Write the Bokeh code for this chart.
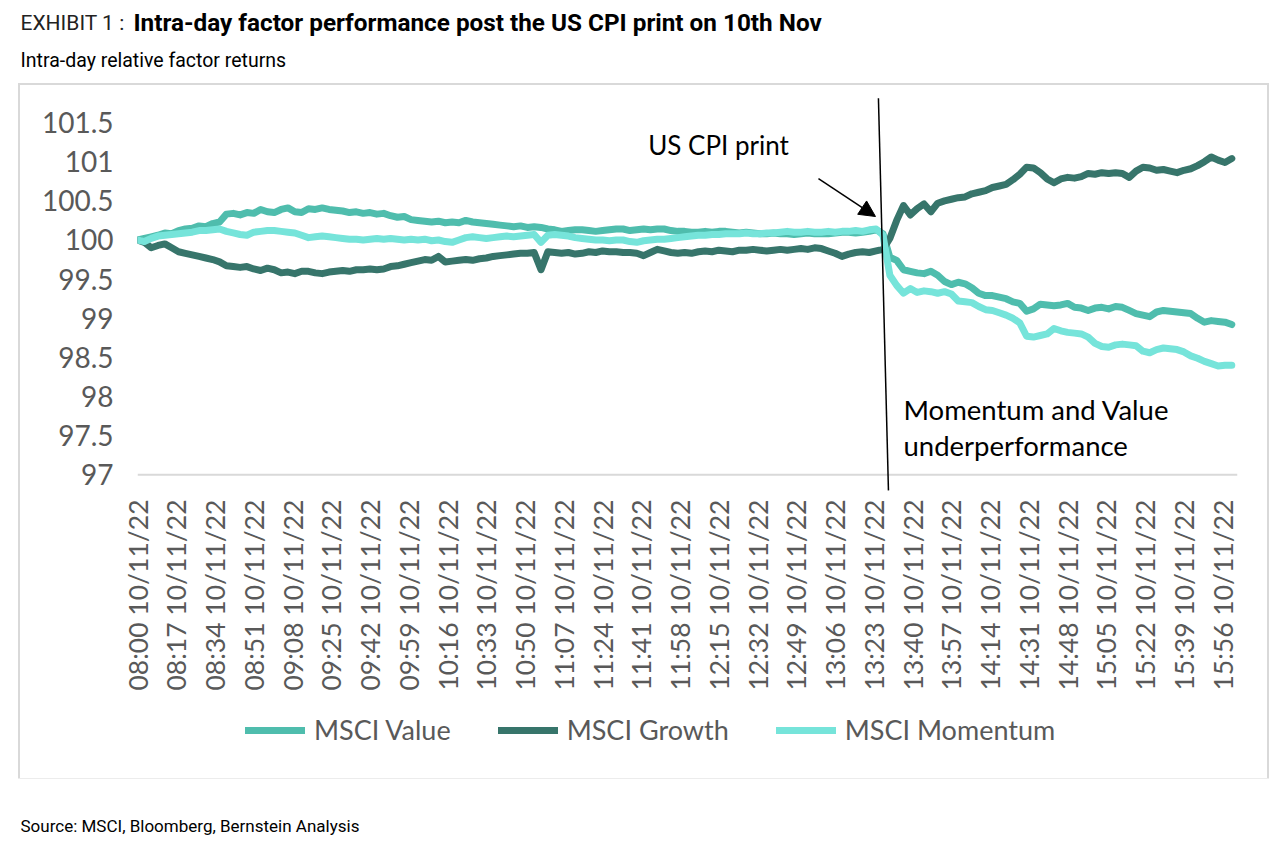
import math
from bokeh.plotting import figure
from bokeh.layouts import column, row
from bokeh.models import (Range1d, FixedTicker, Span, Label, Arrow, NormalHead,
                          Legend, LegendItem, CustomJSTickFormatter, Spacer)
from bokeh.embed import file_html
from bokeh.resources import INLINE

# ---------------- data ----------------
tick_labels = ["08:00 10/11/22", "08:17 10/11/22", "08:34 10/11/22", "08:51 10/11/22",
               "09:08 10/11/22", "09:25 10/11/22", "09:42 10/11/22", "09:59 10/11/22",
               "10:16 10/11/22", "10:33 10/11/22", "10:50 10/11/22", "11:07 10/11/22",
               "11:24 10/11/22", "11:41 10/11/22", "11:58 10/11/22", "12:15 10/11/22",
               "12:32 10/11/22", "12:49 10/11/22", "13:06 10/11/22", "13:23 10/11/22",
               "13:40 10/11/22", "13:57 10/11/22", "14:14 10/11/22", "14:31 10/11/22",
               "14:48 10/11/22", "15:05 10/11/22", "15:22 10/11/22", "15:39 10/11/22",
               "15:56 10/11/22"]

# minutes after 08:00, sampled every 3 minutes
minutes = list(range(0, 481, 3))

msci_value = [
    100.00, 100.02, 100.04, 100.06, 100.09, 100.08, 100.12, 100.14, 100.15, 100.18,
    100.17, 100.21, 100.23, 100.33, 100.34, 100.32, 100.35, 100.34, 100.39, 100.36,
    100.35, 100.39, 100.41, 100.36, 100.35, 100.40, 100.39, 100.41, 100.39, 100.38,
    100.37, 100.35, 100.36, 100.34, 100.35, 100.33, 100.34, 100.31, 100.29, 100.30,
    100.26, 100.25, 100.24, 100.23, 100.24, 100.22, 100.23, 100.22, 100.25, 100.23,
    100.22, 100.21, 100.20, 100.19, 100.18, 100.17, 100.18, 100.16, 100.17, 100.16,
    100.14, 100.13, 100.11, 100.12, 100.13, 100.13, 100.12, 100.11, 100.12, 100.13,
    100.14, 100.14, 100.12, 100.13, 100.14, 100.13, 100.14, 100.14, 100.12, 100.11,
    100.11, 100.10, 100.10, 100.11, 100.10, 100.11, 100.11, 100.10, 100.09, 100.10,
    100.09, 100.08, 100.08, 100.09, 100.08, 100.08, 100.07, 100.08, 100.09, 100.08,
    100.08, 100.08, 100.09, 100.10, 100.10, 100.09, 100.10, 100.11, 100.13, 100.08,
    99.78, 99.74, 99.62, 99.60, 99.58, 99.57, 99.60, 99.55, 99.47, 99.43,
    99.46, 99.44, 99.39, 99.32, 99.29, 99.29, 99.27, 99.25, 99.21, 99.19,
    99.09, 99.12, 99.18, 99.17, 99.16, 99.17, 99.19, 99.14, 99.13, 99.10,
    99.13, 99.14, 99.12, 99.15, 99.14, 99.10, 99.06, 99.04, 99.02, 99.08,
    99.10, 99.09, 99.08, 99.07, 99.06, 99.00, 98.95, 98.97, 98.96, 98.95,
    98.92]

msci_growth = [
    100.00, 99.97, 99.90, 99.93, 99.95, 99.90, 99.85, 99.83, 99.81, 99.79,
    99.77, 99.75, 99.72, 99.67, 99.66, 99.65, 99.66, 99.63, 99.61, 99.64,
    99.62, 99.58, 99.59, 99.57, 99.60, 99.60, 99.58, 99.57, 99.59, 99.60,
    99.61, 99.60, 99.62, 99.62, 99.63, 99.62, 99.63, 99.66, 99.67, 99.69,
    99.71, 99.73, 99.75, 99.74, 99.79, 99.72, 99.73, 99.74, 99.75, 99.74,
    99.76, 99.77, 99.79, 99.80, 99.81, 99.82, 99.83, 99.83, 99.84, 99.62,
    99.85, 99.84, 99.83, 99.84, 99.82, 99.83, 99.85, 99.84, 99.86, 99.85,
    99.85, 99.84, 99.84, 99.83, 99.80, 99.84, 99.88, 99.86, 99.84, 99.83,
    99.84, 99.83, 99.85, 99.86, 99.85, 99.87, 99.86, 99.85, 99.87, 99.87,
    99.88, 99.87, 99.86, 99.87, 99.88, 99.87, 99.88, 99.89, 99.88, 99.90,
    99.89, 99.86, 99.83, 99.79, 99.82, 99.84, 99.85, 99.84, 99.86, 99.88,
    100.02, 100.25, 100.44, 100.32, 100.40, 100.46, 100.36, 100.47, 100.50, 100.52,
    100.54, 100.55, 100.59, 100.61, 100.63, 100.67, 100.69, 100.71, 100.77, 100.84,
    100.93, 100.92, 100.86, 100.78, 100.73, 100.78, 100.80, 100.79, 100.81, 100.85,
    100.84, 100.86, 100.85, 100.86, 100.85, 100.80, 100.88, 100.93, 100.92, 100.89,
    100.90, 100.88, 100.86, 100.89, 100.91, 100.95, 101.00, 101.06, 101.02, 100.99,
    101.04]

msci_momentum = [
    100.00, 99.98, 100.02, 100.05, 100.06, 100.07, 100.08, 100.09, 100.10, 100.12,
    100.12, 100.13, 100.14, 100.11, 100.09, 100.07, 100.06, 100.10, 100.11, 100.12,
    100.12, 100.11, 100.10, 100.09, 100.06, 100.03, 100.04, 100.05, 100.04, 100.03,
    100.02, 100.01, 100.01, 100.00, 100.01, 100.02, 100.01, 100.02, 100.01, 100.00,
    100.01, 100.00, 100.01, 99.99, 100.00, 99.98, 99.97, 100.00, 100.03, 100.04,
    100.03, 100.02, 100.03, 100.04, 100.05, 100.04, 100.05, 100.06, 100.07, 99.97,
    100.06, 100.07, 100.06, 100.05, 100.03, 100.02, 100.01, 100.00, 100.00, 99.99,
    100.00, 100.00, 99.98, 99.97, 99.99, 100.00, 100.01, 100.01, 100.02, 100.03,
    100.04, 100.05, 100.06, 100.06, 100.07, 100.07, 100.08, 100.08, 100.08, 100.09,
    100.08, 100.08, 100.09, 100.09, 100.10, 100.11, 100.10, 100.10, 100.11, 100.10,
    100.10, 100.11, 100.10, 100.11, 100.11, 100.12, 100.11, 100.13, 100.14, 100.06,
    99.55, 99.42, 99.32, 99.38, 99.33, 99.35, 99.34, 99.32, 99.34, 99.31,
    99.22, 99.21, 99.20, 99.15, 99.11, 99.10, 99.07, 99.04, 99.00, 98.94,
    98.77, 98.76, 98.78, 98.80, 98.87, 98.84, 98.82, 98.81, 98.80, 98.76,
    98.68, 98.64, 98.63, 98.66, 98.67, 98.66, 98.65, 98.58, 98.56, 98.60,
    98.62, 98.61, 98.60, 98.57, 98.52, 98.49, 98.45, 98.42, 98.39, 98.40,
    98.40]

y_ticks = [97, 97.5, 98, 98.5, 99, 99.5, 100, 100.5, 101, 101.5]
series_names = ["MSCI Value", "MSCI Growth", "MSCI Momentum"]
series_colors = ["#4FBDAD", "#37756B", "#76E4DA"]
series_values = [msci_value, msci_growth, msci_momentum]
LINE_W = 7


def blank(fig):
    fig.outline_line_color = None
    fig.grid.visible = False
    fig.background_fill_color = "white"
    fig.border_fill_color = "white"
    return fig


# ---------------- header (title, subtitle) ----------------
header = blank(figure(width=1287, height=85, x_range=Range1d(0, 1287), y_range=Range1d(85, 0),
                      output_backend="svg", toolbar_location=None, min_border=0,
                      x_axis_location=None, y_axis_location=None))
header.add_layout(Label(x=20, y=22, text="EXHIBIT 1 :", text_font="Roboto",
                        text_font_size="21px", text_color="#222222", text_baseline="middle"))
header.add_layout(Label(x=133, y=22,
                        text="Intra-day factor performance post the US CPI print on 10th Nov",
                        text_font="Roboto", text_font_size="24.3px", text_font_style="bold",
                        text_color="black", text_baseline="middle"))
header.add_layout(Label(x=20, y=60, text="Intra-day relative factor returns", text_font="Roboto",
                        text_font_size="19.5px", text_color="black", text_baseline="middle"))

# ---------------- main chart ----------------
p = blank(figure(width=1247, height=620, x_range=Range1d(0, 482.5), y_range=Range1d(96.8, 101.82),
                 output_backend="svg", toolbar_location=None,
                 min_border_left=117, min_border_right=30, min_border_top=12, min_border_bottom=215))

p.yaxis.ticker = FixedTicker(ticks=y_ticks)
p.yaxis.formatter = CustomJSTickFormatter(code="return tick.toString();")
p.yaxis.axis_line_color = None
p.yaxis.major_tick_line_color = None
p.yaxis.minor_tick_line_color = None
p.yaxis.major_label_standoff = 18
p.yaxis.major_label_text_font = "Lato"
p.yaxis.major_label_text_font_size = "28px"
p.yaxis.major_label_text_color = "#595959"

tick_pos = [int(t[:2]) * 60 + int(t[3:5]) - 480 for t in tick_labels]
p.xaxis.ticker = FixedTicker(ticks=tick_pos)
p.xaxis.major_label_overrides = {pos: lab for pos, lab in zip(tick_pos, tick_labels)}
p.xaxis.major_label_orientation = math.pi / 2
p.xaxis.axis_line_color = None
p.xaxis.major_tick_line_color = None
p.xaxis.minor_tick_line_color = None
p.xaxis.major_label_standoff = 3
p.xaxis.major_label_text_font = "Lato"
p.xaxis.major_label_text_font_size = "26.5px"
p.xaxis.major_label_text_color = "#595959"

p.add_layout(Span(location=97, dimension="width", line_color="#D9D9D9", line_width=2))

for name, ys, col in zip(series_names, series_values, series_colors):
    p.line(minutes, ys, line_color=col, line_width=LINE_W, line_join="round", line_cap="round")

p.add_layout(Arrow(end=None, x_start=325.0, y_start=101.81, x_end=329.4, y_end=96.795,
                   line_color="black", line_width=1.5))
p.add_layout(Arrow(end=NormalHead(size=16, fill_color="black", line_color="black"),
                   x_start=298.7, y_start=100.785, x_end=323.7, y_end=100.30,
                   line_color="black", line_width=1.5))
p.add_layout(Label(x=224, y=101.21, text="US CPI print", text_font="Lato",
                   text_font_size="26px", text_color="black", text_baseline="middle"))
p.add_layout(Label(x=336, y=97.83, text="Momentum and Value", text_font="Lato",
                   text_font_size="27.5px", text_color="black", text_baseline="middle"))
p.add_layout(Label(x=336, y=97.37, text="underperformance", text_font="Lato",
                   text_font_size="27.5px", text_color="black", text_baseline="middle"))

# ---------------- legend strip (same series, out of view; only the legend shows) ----------------
leg = blank(figure(width=1247, height=73, x_range=Range1d(0, 482.5), y_range=Range1d(0, 1),
                   output_backend="svg", toolbar_location=None, min_border=0,
                   x_axis_location=None, y_axis_location=None))
leg_renderers = [leg.line(minutes, ys, line_color=c, line_width=LINE_W, line_cap="round")
                 for ys, c in zip(series_values, series_colors)]
legend = Legend(items=[LegendItem(label=n, renderers=[r]) for n, r in zip(series_names, leg_renderers)],
                orientation="horizontal", location=(108, 32),
                border_line_color=None, background_fill_alpha=0,
                label_text_font="Lato", label_text_font_size="27px", label_text_color="#595959",
                glyph_width=60, glyph_height=30, label_height=30, label_standoff=9, spacing=47,
                padding=0, margin=0)
leg.add_layout(legend)

box = column(p, leg, spacing=0, styles={"outline": "2px solid #D9D9D9"})

# ---------------- footer (source) ----------------
footer = blank(figure(width=1287, height=66, x_range=Range1d(0, 1287), y_range=Range1d(844, 778),
                      output_backend="svg", toolbar_location=None, min_border=0,
                      x_axis_location=None, y_axis_location=None))
footer.add_layout(Label(x=20, y=825, text="Source: MSCI, Bloomberg, Bernstein Analysis",
                        text_font="Roboto", text_font_size="17px", text_color="black",
                        text_baseline="middle"))

page = column(header, row(Spacer(width=20, height=693), box, spacing=0), footer, spacing=0)

open("out.html", "w").write(file_html(page, INLINE))
